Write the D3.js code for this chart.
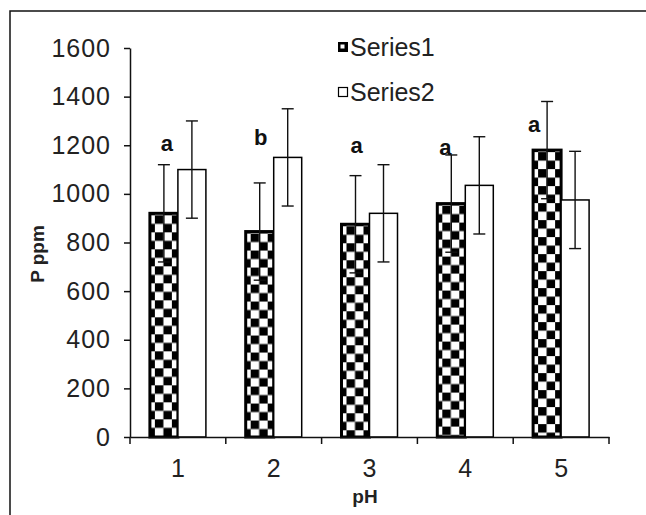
<!DOCTYPE html>
<html><head><meta charset="utf-8">
<script src="https://cdn.jsdelivr.net/npm/d3@7"></script>
<style>
body{margin:0;background:#fff}
svg{display:block}
text{font-family:"Liberation Sans",Arial,Helvetica,sans-serif}
</style>
</head><body>
<svg id="c" width="646" height="515"></svg>
<script>
// ---- data ----
const categories = ["1","2","3","4","5"];
const seriesNames = ["Series1","Series2"];
const series1 = [920, 845, 875, 960, 1180];
const series2 = [1100, 1150, 920, 1035, 975];
const error1 = [200, 200, 200, 200, 200];
const error2 = [200, 200, 200, 200, 200];
const letters = ["a","b","a","a","a"];
const letterLevels = [1175, 1200, 1170, 1160, 1255];
const yTicks = [0,200,400,600,800,1000,1200,1400,1600];
const xTitle = "pH";
const yTitle = "P ppm";

// ---- layout ----
const svg = d3.select("#c");
const X0 = 130, X1 = 609, Y0 = 437, Y1 = 48;
const barW = 28;
const letterShift = [3, 1, 1, -6, -13];

const x = d3.scaleBand().domain(categories).range([X0, X1]).padding(0);
const y = d3.scaleLinear().domain([0, 1600]).range([Y0, Y1]);

// outer frame
svg.append("rect").attr("x",10).attr("y",11).attr("width",700).attr("height",600)
  .attr("fill","none").attr("stroke","#111").attr("stroke-width",1.5);

const defs = svg.append("defs");
function checker(id, ox, oy, s){
  const p = defs.append("pattern").attr("id",id).attr("patternUnits","userSpaceOnUse")
    .attr("x",ox).attr("y",oy).attr("width",2*s).attr("height",2*s);
  p.append("rect").attr("width",2*s).attr("height",2*s).attr("fill","#fff");
  p.append("rect").attr("width",s).attr("height",s).attr("fill","#000");
  p.append("rect").attr("x",s).attr("y",s).attr("width",s).attr("height",s).attr("fill","#000");
}

const rows = categories.map((c,i)=>({c, i, v1:series1[i], v2:series2[i], e1:error1[i], e2:error2[i]}));

// bars
const g = svg.append("g");
rows.forEach(d=>{
  const cx = x(d.c) + x.bandwidth()/2;
  const bx = cx - barW;
  checker("chk"+d.i, bx+5, y(d.v1)+2, 8.5);
  g.append("rect").attr("x",bx).attr("y",y(d.v1)).attr("width",barW).attr("height",Y0-y(d.v1))
    .attr("fill","url(#chk"+d.i+")").attr("stroke","#000").attr("stroke-width",3);
  g.append("rect").attr("x",cx).attr("y",y(d.v2)).attr("width",barW).attr("height",Y0-y(d.v2))
    .attr("fill","#fff").attr("stroke","#000").attr("stroke-width",1.5);
});

// error bars
function errbar(cx, v, e){
  const eg = svg.append("g").attr("stroke","#111").attr("stroke-width",1.4);
  eg.append("line").attr("x1",cx).attr("x2",cx).attr("y1",y(v+e)).attr("y2",y(v-e));
  eg.append("line").attr("x1",cx-6).attr("x2",cx+6).attr("y1",y(v+e)).attr("y2",y(v+e));
  eg.append("line").attr("x1",cx-6).attr("x2",cx+6).attr("y1",y(v-e)).attr("y2",y(v-e));
}
rows.forEach(d=>{
  const cx = x(d.c) + x.bandwidth()/2;
  errbar(cx - barW/2, d.v1, d.e1);
  errbar(cx + barW/2, d.v2, d.e2);
});

// letters
rows.forEach(d=>{
  const cx = x(d.c) + x.bandwidth()/2 - barW/2 + letterShift[d.i];
  svg.append("text").attr("x",cx).attr("y",y(letterLevels[d.i])).attr("text-anchor","middle")
    .attr("font-size",22).attr("font-weight","bold").attr("fill","#111").text(letters[d.i]);
});

// y axis
const ya = svg.append("g").attr("transform",`translate(${X0},0)`)
  .call(d3.axisLeft(y).tickValues(yTicks).tickFormat(d3.format("d"))
    .tickSize(6).tickSizeOuter(0).tickPadding(13));
ya.select(".domain").attr("stroke","#111").attr("stroke-width",1.5);
ya.selectAll(".tick line").attr("stroke","#111").attr("stroke-width",1.5);
ya.selectAll(".tick text").attr("font-size",25).attr("fill","#222")
  .style("letter-spacing","1px")
  .style("font-family","'Liberation Sans',Arial,sans-serif");

// x axis
const xa = svg.append("g").attr("transform",`translate(0,${Y0})`)
  .call(d3.axisBottom(x).tickSize(0).tickSizeOuter(0).tickPadding(22));
xa.select(".domain").attr("stroke","#111").attr("stroke-width",1.5);
xa.selectAll(".tick text").attr("font-size",25).attr("fill","#222")
  .style("font-family","'Liberation Sans',Arial,sans-serif");
const bounds = categories.map(c=>x(c)).concat([X1]);
xa.selectAll(".bt").data(bounds).join("line").attr("class","bt")
  .attr("x1",d=>d).attr("x2",d=>d).attr("y1",0).attr("y2",7)
  .attr("stroke","#111").attr("stroke-width",1.5);

// titles
svg.append("text").attr("x",365).attr("y",503).attr("text-anchor","middle")
  .attr("font-size",19).attr("font-weight","bold").attr("fill","#222").text(xTitle);
svg.append("text").attr("transform",`translate(44,254) rotate(-90)`).attr("text-anchor","middle")
  .attr("font-size",19).attr("font-weight","bold").attr("fill","#222").text(yTitle);

// legend
const lg = svg.append("g");
const legY = [47, 92];
seriesNames.forEach((n,i)=>{
  const row = lg.append("g").attr("transform",`translate(338,${legY[i]})`);
  if(i===0){
    row.append("rect").attr("x",0).attr("y",-5).attr("width",10).attr("height",10).attr("fill","#000");
    row.append("rect").attr("x",2.5).attr("y",-2.5).attr("width",4).attr("height",4).attr("fill","#fff");
  } else {
    row.append("rect").attr("x",0.5).attr("y",-4.5).attr("width",9).attr("height",9)
      .attr("fill","#fff").attr("stroke","#000").attr("stroke-width",1.2);
  }
  row.append("text").attr("x",12).attr("y",0).attr("dy","0.36em").attr("font-size",25)
    .attr("fill","#222").text(n);
});
</script>
</body></html>
